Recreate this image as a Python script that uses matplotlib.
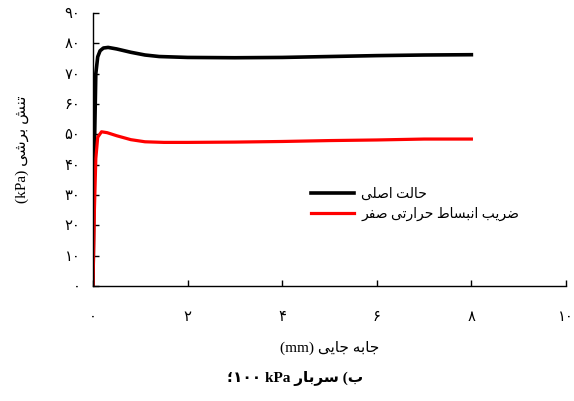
import unicodedata
import matplotlib
matplotlib.use('Agg')
import matplotlib.pyplot as plt

# Persian text needs contextual letter forms and right-to-left order;
# matplotlib does neither, so build the presentation forms by hand.
forms = {}
for cp in range(0xFB50, 0xFEFF):
    d = unicodedata.decomposition(chr(cp)).split()
    if len(d) == 2 and d[0] in ('<isolated>', '<final>', '<initial>', '<medial>'):
        forms.setdefault(chr(int(d[1], 16)), {})[d[0][1:-1]] = chr(cp)


def shape(s):
    out = []
    for i, c in enumerate(s):
        if c not in forms:
            out.append(c)
            continue
        f = forms[c]
        prev = s[i - 1] if i > 0 else ''
        nxt = s[i + 1] if i + 1 < len(s) else ''
        join_prev = prev in forms and 'initial' in forms[prev] and 'final' in f
        join_next = 'initial' in f and nxt in forms and 'final' in forms[nxt]
        if join_prev and join_next and 'medial' in f:
            out.append(f['medial'])
        elif join_prev:
            out.append(f['final'])
        elif join_next:
            out.append(f['initial'])
        else:
            out.append(f.get('isolated', c))
    return ''.join(out)


def rtl(s):
    return shape(s)[::-1]


# displacement (mm) / shear stress (kPa)
x_base = [0, 0.03, 0.06, 0.1, 0.15, 0.22, 0.32, 0.5, 0.8, 1.1, 1.4, 2, 3, 4, 5, 6, 7, 8]
y_base = [0, 45, 70, 75.5, 77.5, 78.4, 78.6, 78.1, 77.0, 76.1, 75.6, 75.3, 75.2, 75.3, 75.6, 75.9, 76.1, 76.2]

x_zero = [0, 0.03, 0.06, 0.1, 0.18, 0.3, 0.5, 0.8, 1.1, 1.5, 2, 3, 4, 5, 6, 7, 8]
y_zero = [0, 25, 42, 49, 50.8, 50.5, 49.5, 48.2, 47.5, 47.3, 47.3, 47.4, 47.6, 47.9, 48.1, 48.4, 48.4]

label_base = 'حالت اصلی'
label_zero = 'ضریب انبساط حرارتی صفر'

fa_digits = '۰۱۲۳۴۵۶۷۸۹'
xticks = [0, 2, 4, 6, 8, 10]
yticks = [0, 10, 20, 30, 40, 50, 60, 70, 80, 90]


def fa_num(n):
    return ''.join(fa_digits[int(ch)] for ch in str(n))


plt.rcParams['font.family'] = ['Liberation Serif', 'DejaVu Sans']

fig = plt.figure(figsize=(5.74, 4.01), dpi=100)
ax = fig.add_axes([0.162, 0.287, 0.824, 0.681])

ax.plot(x_base, y_base, color='black', lw=2.6, label=rtl(label_base))
ax.plot(x_zero, y_zero, color='#ff0000', lw=2.3, label=rtl(label_zero))

ax.set_xlim(0, 10)
ax.set_ylim(0, 90)
ax.set_xticks(xticks)
ax.set_xticklabels([fa_num(v) for v in xticks])
ax.set_yticks(yticks)
ax.set_yticklabels([fa_num(v) for v in yticks])
ax.tick_params(direction='in', length=4, width=1, labelsize=10.5)
ax.tick_params(axis='x', pad=18)
ax.tick_params(axis='y', pad=9)
for side in ('top', 'right'):
    ax.spines[side].set_visible(False)
for side in ('left', 'bottom'):
    ax.spines[side].set_linewidth(1)

ax.set_ylabel('(kPa) ' + rtl('تنش برشی'), fontsize=11, labelpad=26)
ax.set_xlabel('(mm) ' + rtl('جابه جایی'), fontsize=11, labelpad=12)

ax.legend(loc='upper left', bbox_to_anchor=(0.45, 0.38), frameon=False,
          fontsize=10, handlelength=3.1, handletextpad=0.5, labelspacing=0.45,
          borderaxespad=0)

caption = '؛۱۰۰ kPa ' + rtl('سربار') + ' (' + rtl('ب')
fig.text(0.514, 0.057, caption, ha='center', va='center', fontsize=11,
         fontweight='bold')

fig.savefig('out.png', dpi=100)
